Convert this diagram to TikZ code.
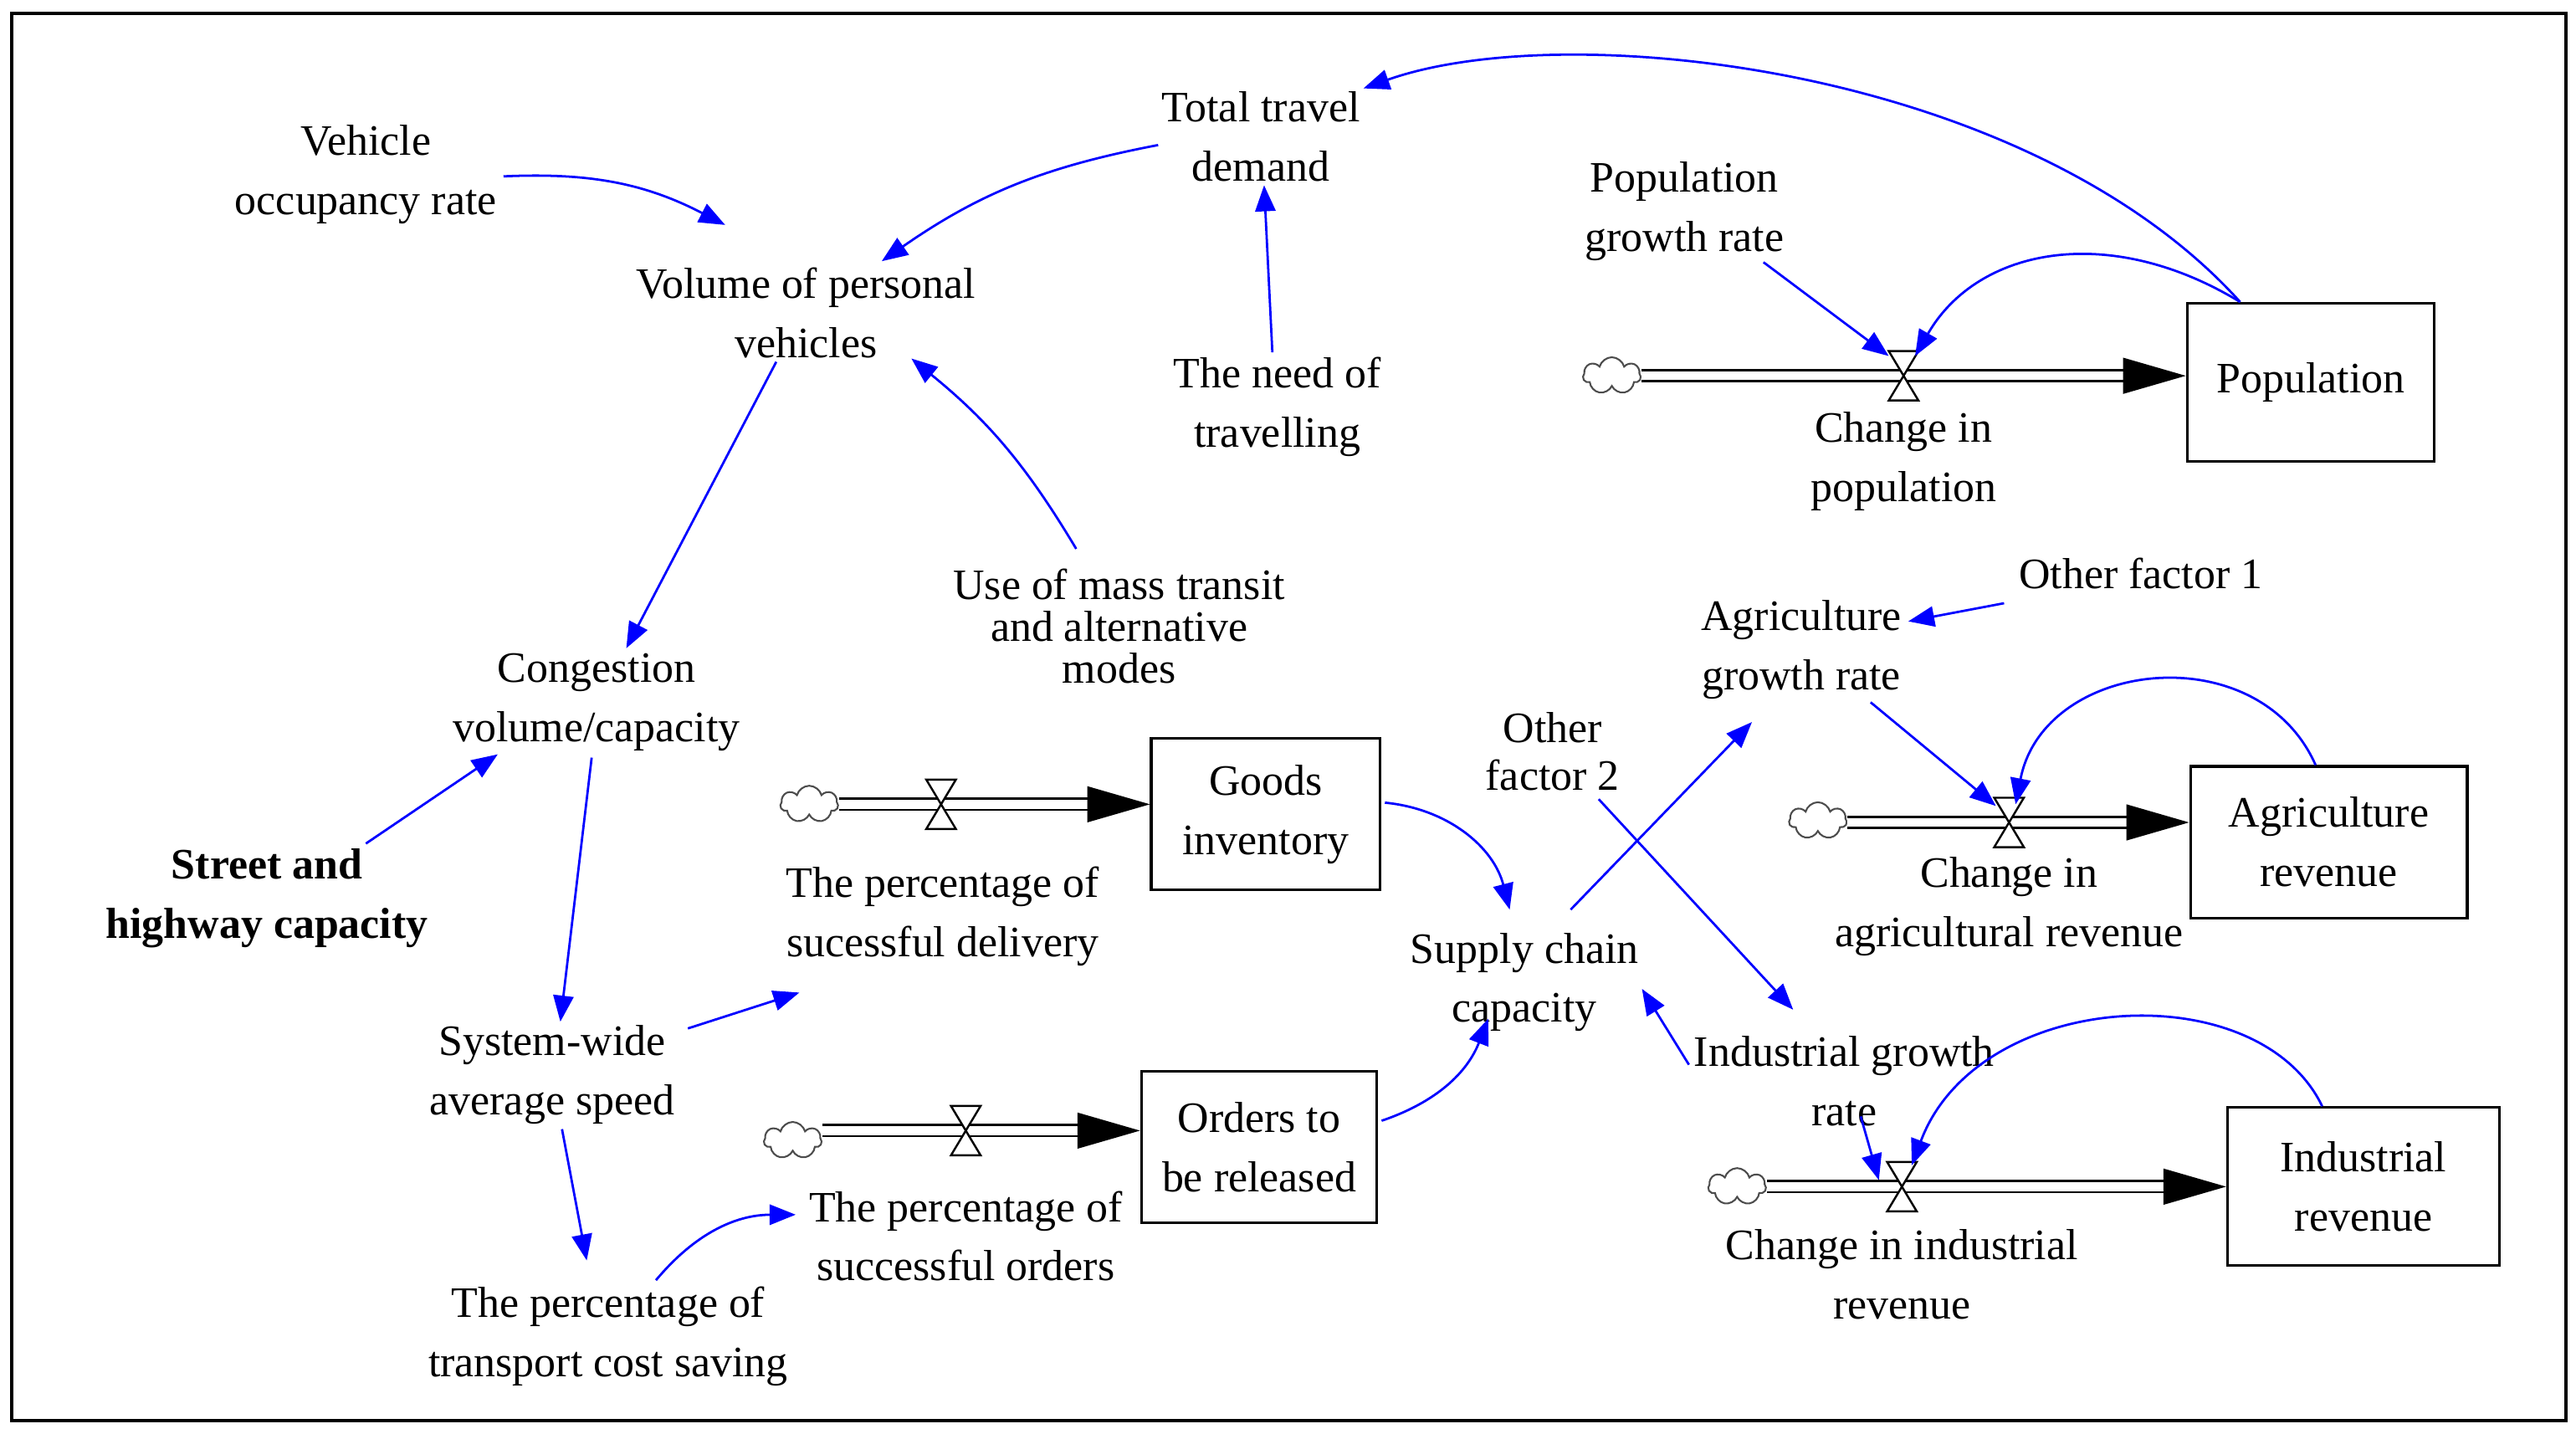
\documentclass[tikz,border=0pt]{standalone}
\usepackage{fontspec}
\setmainfont{Liberation Serif}
\usetikzlibrary{arrows.meta,shapes.symbols,calc}
\begin{document}
\begin{tikzpicture}[x=0.02cm,y=-0.02cm,
  lbl/.style={align=center,font=\fontsize{15}{20.5}\selectfont,inner sep=1pt},
  box/.style={draw,line width=0.9pt,minimum width=#1,align=center,font=\fontsize{15}{20.5}\selectfont},
  ln/.style={blue,line width=0.8pt,-{Triangle[length=9pt,width=7pt]}},
  cl/.style={cloud,cloud puffs=7,draw=black!70,minimum width=0.7cm,minimum height=0.45cm,inner sep=0pt,line width=0.6pt},
  valve/.pic={\draw[fill=white,line width=0.7pt] (-9,-15)--(9,-15)--(0,0)--cycle (-9,15)--(9,15)--(0,0)--cycle;}]
\useasboundingbox (0,0) rectangle (1563,870);
\draw[line width=1pt] (7,8) rectangle (1557,862);
% text nodes
\node[lbl] (ttd) at (765,83) {Total travel\\demand};
\node[lbl] (vor) at (222,106) {Vehicle\\occupancy rate};
\node[lbl] (vpv) at (489,190) {Volume of personal\\vehicles};
\node[lbl] (need) at (775,247) {The need of\\travelling};
\node[lbl] (pgr) at (1022,128) {Population\\growth rate};
\node[lbl] (mass) at (679,380) {Use of mass transit\\[-6pt]and alternative\\[-6pt]modes};
\node[lbl] (cong) at (362,426) {Congestion\\volume/capacity};
\node[lbl,font=\fontsize{15}{20.5}\selectfont\bfseries] (street) at (162,545) {Street and\\highway capacity};
\node[lbl] (sw) at (335,652) {System-wide\\average speed};
\node[lbl] (tcs) at (369,811) {The percentage of\\transport cost saving};
\node[lbl] (scc) at (925,596) {Supply chain\\capacity};
\node[lbl] (of2) at (942,456) {Other\\[-4pt]factor 2};
\node[lbl] (agr) at (1093,394) {Agriculture\\growth rate};
\node[lbl] (of1) at (1299,348) {Other factor 1};
\node[lbl] (igr) at (1119,656) {Industrial growth\\rate};
% stocks
\node[box=150*0.02cm,minimum height=96*0.02cm] (pop) at (1402,232) {Population};
\node[box=139*0.02cm,minimum height=92*0.02cm] (gi) at (768,494) {Goods\\inventory};
\node[box=143*0.02cm,minimum height=92*0.02cm] (otr) at (764,696) {Orders to\\be released};
\node[box=168*0.02cm,minimum height=92*0.02cm] (ar) at (1413,511) {Agriculture\\revenue};
\node[box=165*0.02cm,minimum height=96*0.02cm] (ir) at (1434,720) {Industrial\\revenue};
% clouds
\node[cl] (c1) at (978,228) {};
\node[cl] (c2) at (491,488) {};
\node[cl] (c3) at (481,692) {};
\node[cl] (c4) at (1103,498) {};
\node[cl] (c5) at (1054,720) {};
% pipes
\foreach \c/\b/\y in {c1/pop/228,c2/gi/488,c3/otr/686,c4/ar/499,c5/ir/720}{
  \draw[line width=0.8pt,double,double distance=3pt] (\c.east|-0,\y) -- ($(\b.west|-0,\y)+(-36,0)$);
  \fill ($(\b.west|-0,\y)+(-38,-11)$) -- (\b.west|-0,\y) -- ($(\b.west|-0,\y)+(-38,11)$) -- cycle;
}
\coordinate (v1) at (1155,228); \coordinate (v2) at (571,488); \coordinate (v3) at (586,686);
\coordinate (v4) at (1219,499); \coordinate (v5) at (1154,720);
\foreach \v in {v1,v2,v3,v4,v5} \pic at (\v) {valve};
\node[lbl] (l1) at (1155,280) {Change in\\population};
\node[lbl] (l2) at (572,556) {The percentage of\\sucessful delivery};
\node[lbl] (l3) at (586,750) {The percentage of\\successful orders};
\node[lbl] (l4) at (1219,550) {Change in\\agricultural revenue};
\node[lbl] (l5) at (1154,773) {Change in industrial\\revenue};
% causal links
\draw[ln] (pop.north west)++(33,0) .. controls (1230,40) and (950,10) .. (ttd.north east);
\draw[ln] (ttd.west)++(0,5) to[bend right=12] ($(vpv.north)+(46,-2)$);
\draw[ln] ($(vor.east)+(2,1)$) to[bend left=15] ($(vpv.north)+(-49,-24)$);
\draw[ln] (need.north)++(-3,-1) -- ($(ttd.south)+(2,0)$);
\draw[ln] ($(pgr.south)+(48,-1)$) -- ($(v1)+(-9,-12)$);
\draw[ln] (pop.north west)++(33,0) .. controls (1280,135) and (1200,150) .. ($(v1)+(7,-12)$);
\draw[ln] ($(vpv.south)+(-18,0)$) -- ($(cong.north)+(18,-1)$);
\draw[ln] ($(mass.north)+(-26,-10)$) to[bend right=10] ($(vpv.south)+(64,-2)$);
\draw[ln] ($(street.north)+(60,-1)$) -- ($(cong.south)+(-60,0)$);
\draw[ln] ($(cong.south)+(-3,2)$) -- ($(sw.north)+(5,0)$);
\draw[ln] ($(sw.east)+(6,-28)$) -- ($(l2.south)+(-87,14)$);
\draw[ln] ($(sw.south)+(6,1)$) -- ($(tcs.north)+(-13,-14)$);
\draw[ln] ($(tcs.north)+(29,-2)$) to[bend left=25] ($(l3.west)+(-6,-13)$);
\draw[ln] ($(gi.east)+(2,-7)$) to[bend left=35] ($(scc.north)+(-9,-12)$);
\draw[ln] ($(otr.east)+(2,-16)$) to[bend right=25] ($(scc.south)+(-22,-10)$);
\draw[ln] ($(scc.north)+(28,-12)$) -- ($(agr.south)+(-30,12)$);
\draw[ln] ($(of2.south)+(28,3)$) -- ($(igr.north)+(-31,-14)$);
\draw[ln] ($(igr.west)+(-1,-10)$) -- ($(scc.east)+(0,4)$);
\draw[ln] ($(of1.west)+(-7,18)$) -- ($(agr.east)+(2,-17)$);
\draw[ln] ($(agr.south)+(42,0)$) -- ($(v4)+(-8,-10)$);
\draw[ln] ($(ar.north)+(-8,0)$) .. controls (1370,385) and (1240,400) .. ($(v4)+(4,-11)$);
\draw[ln] ($(igr.south)+(10,-8)$) -- ($(v5)+(-14,-4)$);
\draw[ln] ($(ir.north)+(-25,0)$) .. controls (1370,590) and (1200,600) .. ($(v5)+(6,-13)$);
\end{tikzpicture}
\end{document}
